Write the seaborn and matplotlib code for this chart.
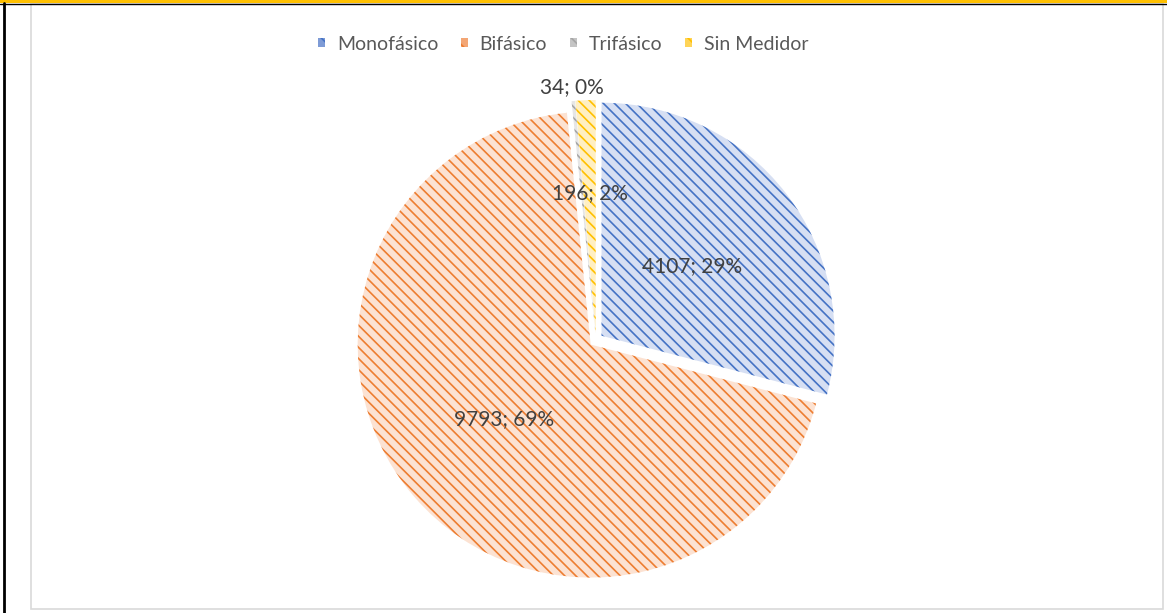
import matplotlib
matplotlib.use("Agg")
import matplotlib.pyplot as plt
import matplotlib.patches as mpatches
import seaborn as sns
import numpy as np

categories = ["Monofásico", "Bifásico", "Trifásico", "Sin Medidor"]
values = [4107, 9793, 34, 196]
pct_labels = [29, 69, 0, 2]

sns.set_style("white")
plt.rcParams["font.family"] = ["Lato", "DejaVu Sans"]
plt.rcParams["hatch.linewidth"] = 1.2

line_colors = ["#4472C4", "#ED7D31", "#A5A5A5", "#FFC000"]
fill_colors = ["#D6DFF3", "#FCE2D2", "#E6E6E6", "#FFEFC2"]
mid_colors = ["#7E9BD6", "#F3A675", "#C4C4C4", "#FFD457"]
hatch = "\\\\\\"

W, H = 1167, 613
fig = plt.figure(figsize=(W / 100, H / 100), dpi=100)
ax = fig.add_axes([0, 0, 1, 1])

cx, cy, R = 596, H - 340, 233
wedges, _ = ax.pie(values, startangle=90, counterclock=False, radius=R,
                   center=(cx, cy), explode=[7] * len(values),
                   wedgeprops=dict(linewidth=0))
for w, lc, fc in zip(wedges, line_colors, fill_colors):
    w.set_facecolor(fc)
    w.set_edgecolor(lc)
    w.set_hatch(hatch)

# data labels
dist = [0.49, 0.49, 1.06, 0.6]
for w, v, p, d in zip(wedges, values, pct_labels, dist):
    ang = np.deg2rad((w.theta1 + w.theta2) / 2)
    x = w.center[0] + d * R * np.cos(ang)
    y = w.center[1] + d * R * np.sin(ang)
    ax.text(x, y, f"{v}; {p}%", ha="center", va="center", fontsize=15,
            color="#404040")

ax.set_xlim(0, W)
ax.set_ylim(0, H)
ax.set_aspect("auto")
ax.axis("off")

# legend
handles = [mpatches.Patch(facecolor=mc, edgecolor=lc, hatch="\\\\", linewidth=0)
           for lc, mc in zip(line_colors, mid_colors)]
fig.legend(handles, categories, loc="center", bbox_to_anchor=(563 / W, 1 - 44 / H),
           ncol=4, frameon=False, fontsize=14, handlelength=0.38, handleheight=0.38,
           handletextpad=0.6, columnspacing=1.15, labelcolor="#595959")

# frames
fig.patches.append(mpatches.Rectangle((31 / W, 1 - 609 / H), 1132 / W, 605 / H,
                                      transform=fig.transFigure, fill=False,
                                      edgecolor="#D9D9D9", linewidth=1.2))
fig.patches.append(mpatches.Rectangle((0, 1 - 3 / H), 1, 3 / H, transform=fig.transFigure,
                                      facecolor="#FFC000", edgecolor="none"))
fig.lines.append(plt.Line2D([0, 1], [1 - 3.5 / H] * 2, transform=fig.transFigure,
                            color="black", linewidth=1))
fig.lines.append(plt.Line2D([3.5 / W] * 2, [0, 1 - 3 / H], transform=fig.transFigure,
                            color="black", linewidth=2))

fig.savefig("out.png", dpi=100)
